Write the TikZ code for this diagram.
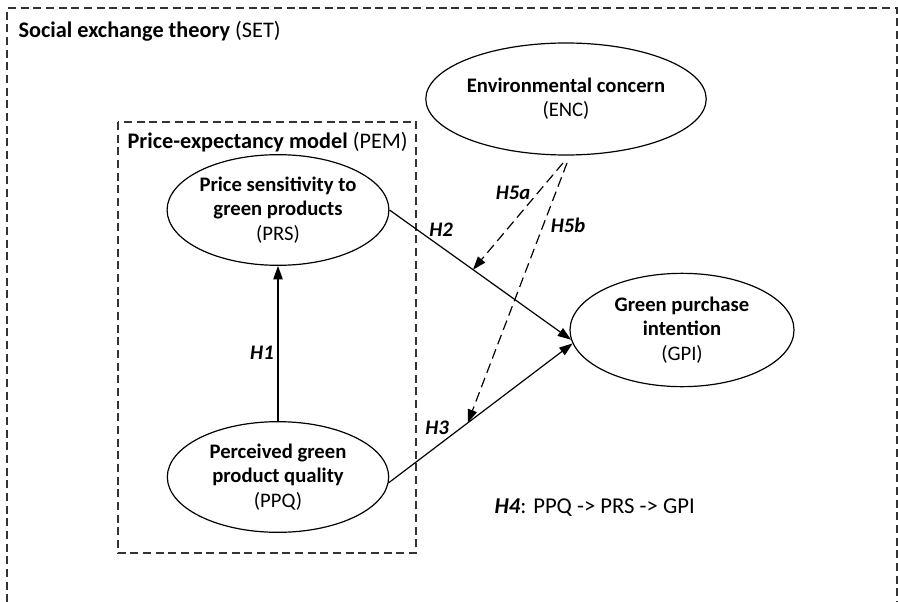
\documentclass[tikz,border=0pt]{standalone}
\usepackage{fontspec}
\setmainfont{Carlito}
\usetikzlibrary{shapes.geometric, arrows.meta, positioning, calc}
\definecolor{framegray}{HTML}{333333}

\begin{document}
\begin{tikzpicture}[x=0.75pt, y=-0.75pt, line width=0.9pt,
    construct/.style={draw, ellipse, inner sep=0pt, minimum width=166pt, minimum height=83pt, align=center, font=\fontsize{15.5}{18.2}\selectfont},
    hyp/.style={-{Triangle[length=10pt, width=7pt]}},
    moderation/.style={hyp, dash pattern=on 7.5pt off 4pt},
    setbox/.style={draw=framegray, dash pattern=on 6pt off 3.5pt, line width=0.8pt},
    boxtitle/.style={anchor=west, inner sep=0pt, font=\fontsize{16.7}{18}\selectfont},
    hlabel/.style={inner sep=0pt, font=\fontsize{15.5}{18}\selectfont\bfseries\itshape}]
    \useasboundingbox (0,0) rectangle (898,602);

    % theory frames
    \draw[setbox] (7,615) -- (7,8) -- (897,8) -- (897,615);
    \draw[setbox] (118,122) rectangle (416,553);
    \node[boxtitle] (settitle) at (18,31) {\textbf{Social exchange theory} (SET)};
    \node[boxtitle] (pemtitle) at (127,142) {\textbf{Price-expectancy model} (PEM)};

    % constructs
    \node[construct, minimum width=168pt, minimum height=84pt] (ENC) at (566,99) {\textbf{Environmental concern}\\(ENC)};
    \node[construct] (PRS) at (278,210) {\textbf{Price sensitivity to}\\\textbf{green products}\\(PRS)};
    \node[construct, minimum width=168pt, minimum height=85pt] (GPI) at (682,330) {\textbf{Green purchase}\\\textbf{intention}\\(GPI)};
    \node[construct] (PPQ) at (278,477) {\textbf{Perceived green}\\\textbf{product quality}\\(PPQ)};

    % hypotheses
    \draw[hyp] (PPQ) -- (PRS);
    \draw[hyp] (PRS.east) -- coordinate[pos=0.46] (onH2) (GPI.185);
    \draw[hyp] (PPQ.-3) -- coordinate[pos=0.43] (onH3) (GPI.187);
    \coordinate (encA) at (563,163);
    \coordinate (encB) at (567,163);
    \draw[moderation] (encA) -- (onH2);
    \draw[moderation] (encB) -- (onH3);

    \node[hlabel] (lH1) at (262,353) {H1};
    \node[hlabel] (lH2) at (441,230) {H2};
    \node[hlabel] (lH3) at (437,428) {H3};
    \node[hlabel] (lH5a) at (513,193) {H5a};
    \node[hlabel] (lH5b) at (568,225) {H5b};
    \node[boxtitle, font=\fontsize{17}{18}\selectfont] (h4note) at (494,508) {\textbf{\textit{H4}}: PPQ -> PRS -> GPI};
\end{tikzpicture}
\end{document}
